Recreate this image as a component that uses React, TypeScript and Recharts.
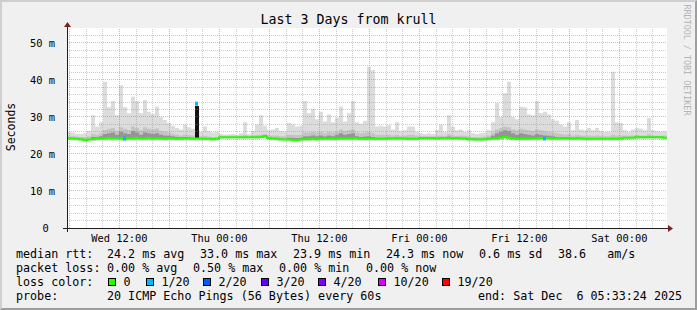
import { ComposedChart, Area, Line, XAxis, YAxis, ReferenceLine, CartesianGrid } from "recharts";

// 150 steps of 0.48h (28.8 min), starting Wed 05:43 (hours counted from Wed 00:00)
const T0 = 5.72;
const STEP_H = 0.48;

// median rtt (ms)
const MED = [
  24.2, 24.2, 24.1, 24.0, 23.8, 23.9, 24.0, 24.1, 24.2, 24.2,
  24.3, 24.2, 24.2, 24.2, 24.1, 24.2, 24.2, 24.3, 24.2, 24.2,
  24.3, 24.2, 24.2, 24.2, 24.1, 24.2, 24.2, 24.1, 24.1, 24.2,
  24.2, 24.1, 24.2, 24.1, 24.1, 24.1, 24.0, 24.1, 24.5, 24.5,
  24.5, 24.5, 24.5, 24.5, 24.5, 24.5, 24.5, 24.5, 24.6, 24.8,
  24.3, 24.2, 24.1, 24.0, 23.9, 23.9, 23.8, 23.8, 23.9, 24.0,
  24.0, 24.1, 24.0, 24.1, 24.1, 24.1, 24.1, 24.1, 24.2, 24.2,
  24.2, 24.2, 24.2, 24.1, 24.1, 24.1, 24.1, 24.1, 24.1, 24.1,
  24.2, 24.2, 24.2, 24.2, 24.2, 24.1, 24.1, 24.1, 24.3, 24.3,
  24.3, 24.3, 24.2, 24.3, 24.3, 24.3, 24.3, 24.3, 24.2, 24.2,
  24.0, 24.0, 23.9, 23.9, 24.0, 24.1, 24.2, 24.2, 24.4, 24.6,
  24.4, 24.2, 24.1, 24.1, 24.1, 24.1, 24.2, 24.2, 24.3, 24.3,
  24.3, 24.2, 24.2, 24.2, 24.2, 24.2, 24.2, 24.2, 24.2, 24.1,
  24.1, 24.1, 24.1, 24.1, 24.1, 24.1, 24.1, 24.1, 24.2, 24.4,
  24.4, 24.4, 24.5, 24.5, 24.5, 24.5, 24.5, 24.5, 24.5, 24.4,
];

// fastest ping of each step
const LO = [
  23.7, 23.6, 23.5, 23.4, 23.2, 23.3, 23.4, 23.5, 23.6, 23.5,
  23.6, 23.5, 23.6, 23.5, 23.4, 23.6, 23.5, 23.6, 23.5, 23.6,
  23.6, 23.5, 23.6, 23.6, 23.5, 23.6, 23.6, 23.5, 23.5, 23.6,
  23.6, 23.5, 23.4, 23.5, 23.5, 23.5, 23.4, 23.5, 24.0, 24.0,
  24.0, 24.0, 24.0, 24.0, 24.0, 24.0, 24.0, 24.0, 24.1, 24.2,
  23.7, 23.6, 23.5, 23.4, 23.3, 23.3, 23.2, 23.2, 23.3, 23.4,
  23.4, 23.5, 23.4, 23.5, 23.5, 23.5, 23.5, 23.5, 23.6, 23.6,
  23.6, 23.6, 23.6, 23.5, 23.5, 23.5, 23.5, 23.5, 23.5, 23.5,
  23.6, 23.6, 23.6, 23.6, 23.6, 23.5, 23.5, 23.5, 23.8, 23.8,
  23.8, 23.8, 23.7, 23.8, 23.8, 23.8, 23.8, 23.8, 23.7, 23.7,
  23.4, 23.4, 23.3, 23.3, 23.4, 23.5, 23.6, 23.6, 23.8, 24.0,
  23.8, 23.6, 23.5, 23.5, 23.5, 23.5, 23.6, 23.6, 23.7, 23.7,
  23.7, 23.6, 23.6, 23.6, 23.6, 23.6, 23.6, 23.6, 23.6, 23.5,
  23.5, 23.5, 23.5, 23.5, 23.5, 23.5, 23.5, 23.5, 23.6, 23.9,
  23.9, 23.9, 24.0, 24.0, 24.0, 24.0, 24.0, 24.0, 24.0, 23.9,
];

// slowest ping of each step (top of light smoke)
const HI = [
  26.0, 25.8, 25.5, 25.4, 25.6, 26.2, 30.5, 27.4, 28.6, 39.5,
  32.6, 34.3, 30.5, 38.6, 32.6, 31.0, 35.5, 34.3, 31.0, 34.6,
  31.4, 30.8, 32.8, 30.0, 29.2, 28.4, 27.6, 27.0, 26.6, 28.0,
  27.2, 26.8, 26.8, 26.0, 27.4, 26.2, 25.8, 26.0, 25.4, 25.2,
  25.3, 25.4, 25.2, 25.6, 28.6, 25.4, 26.2, 28.0, 30.5, 27.6,
  26.4, 26.6, 27.0, 26.2, 26.0, 28.4, 28.0, 27.4, 27.6, 34.3,
  31.0, 32.2, 29.4, 31.4, 28.8, 30.7, 28.6, 29.8, 32.8, 28.8,
  31.0, 34.3, 28.6, 28.2, 29.0, 43.6, 42.7, 27.4, 27.6, 27.4,
  27.8, 26.6, 28.6, 26.2, 26.4, 27.4, 27.4, 26.0, 25.6, 25.4,
  25.6, 25.4, 26.4, 28.0, 26.0, 30.5, 27.4, 26.4, 26.6, 26.0,
  26.4, 25.6, 25.4, 25.6, 25.8, 26.4, 28.6, 33.8, 30.0, 36.4,
  39.5, 30.0, 29.4, 32.8, 32.6, 30.7, 30.5, 34.3, 31.0, 31.4,
  30.7, 29.4, 29.0, 28.0, 27.4, 28.6, 26.4, 29.2, 26.6, 26.4,
  27.0, 26.4, 27.0, 26.2, 26.0, 26.0, 42.2, 28.6, 28.4, 26.4,
  26.0, 26.6, 27.0, 26.8, 26.4, 29.7, 26.4, 26.2, 26.0, 26.2,
];

// top of the medium grey smoke
const MID = [
  24.8, 24.8, 24.7, 24.6, 24.6, 24.8, 25.5, 25.2, 25.6, 26.5,
  26.8, 27.0, 26.2, 27.2, 26.8, 26.5, 27.4, 27.0, 26.4, 27.2,
  26.8, 26.6, 26.9, 26.2, 26.0, 25.8, 25.5, 25.2, 25.0, 25.3,
  25.1, 25.0, 25.0, 24.8, 24.9, 24.7, 24.6, 24.6, 24.9, 24.9,
  24.9, 24.9, 24.9, 25.0, 25.1, 24.9, 25.0, 25.1, 25.3, 25.4,
  25.0, 25.0, 25.0, 24.8, 24.8, 25.2, 25.2, 25.1, 25.2, 25.8,
  25.8, 26.0, 25.8, 26.0, 25.6, 26.0, 25.8, 26.0, 26.6, 26.2,
  26.4, 26.6, 25.8, 25.6, 25.8, 26.0, 25.6, 25.2, 25.2, 25.2,
  25.3, 25.0, 25.2, 24.9, 25.0, 25.2, 25.2, 24.9, 24.8, 24.8,
  24.8, 24.8, 24.9, 25.0, 24.9, 25.4, 25.0, 24.9, 25.0, 24.9,
  24.8, 24.6, 24.6, 24.6, 24.7, 25.0, 25.8, 26.6, 27.0, 27.4,
  27.2, 26.6, 26.4, 26.8, 26.6, 26.4, 26.2, 26.6, 26.4, 26.2,
  26.0, 25.8, 25.6, 25.4, 25.3, 25.4, 25.0, 25.3, 25.0, 24.9,
  25.0, 24.9, 25.0, 24.9, 24.8, 24.8, 25.2, 25.0, 25.0, 25.0,
  24.9, 25.0, 25.1, 25.0, 25.0, 25.4, 25.0, 24.9, 24.9, 25.0,
];

// top of the dark smoke around the median
const DARK = [
  24.4, 24.4, 24.3, 24.2, 24.0, 24.1, 24.6, 24.5, 24.8, 25.4,
  25.6, 25.8, 25.2, 26.0, 25.6, 25.4, 26.2, 25.8, 25.2, 25.8,
  25.6, 25.4, 25.6, 25.2, 25.0, 24.9, 24.8, 24.6, 24.5, 24.6,
  24.5, 24.4, 24.4, 24.3, 24.3, 24.3, 24.2, 24.3, 24.6, 24.6,
  24.6, 24.6, 24.6, 24.6, 24.7, 24.6, 24.7, 24.7, 24.8, 25.0,
  24.5, 24.4, 24.4, 24.2, 24.1, 24.4, 24.4, 24.3, 24.4, 24.8,
  24.8, 25.0, 24.8, 25.0, 24.7, 25.0, 24.8, 25.2, 25.6, 25.2,
  25.4, 25.6, 24.8, 24.6, 24.7, 24.8, 24.6, 24.4, 24.4, 24.4,
  24.5, 24.4, 24.5, 24.4, 24.4, 24.4, 24.4, 24.3, 24.5, 24.5,
  24.5, 24.5, 24.4, 24.5, 24.5, 24.7, 24.5, 24.5, 24.4, 24.4,
  24.2, 24.2, 24.1, 24.1, 24.2, 24.4, 25.0, 25.6, 26.0, 26.4,
  26.2, 25.6, 25.2, 25.6, 25.4, 25.2, 25.0, 25.4, 25.2, 25.0,
  24.9, 24.8, 24.6, 24.5, 24.5, 24.5, 24.4, 24.5, 24.4, 24.3,
  24.3, 24.3, 24.3, 24.3, 24.3, 24.3, 24.4, 24.3, 24.4, 24.6,
  24.6, 24.6, 24.7, 24.7, 24.7, 24.8, 24.7, 24.7, 24.7, 24.6,
];

// Wed evening: every ping of one step around 33 ms
const SPIKE_IDX = 32;
const SPIKE_TOP = 33.0;

// steps with 1/20 loss
const LOSS_IDX = [14, 32, 119];
const LOSS_RTT = [24.2, 33.6, 24.2];

const X_TICKS = [12, 24, 36, 48, 60, 72];
const X_LABELS = ["Wed 12:00", "Thu 00:00", "Thu 12:00", "Fri 00:00", "Fri 12:00", "Sat 00:00"];
const Y_TICKS = [0, 10, 20, 30, 40, 50];
const Y_LABELS = ["0 ", "10 m", "20 m", "30 m", "40 m", "50 m"];

const RTT_STATS = ["24.2 ms avg", "33.0 ms max", "23.9 ms min", "24.3 ms now", "0.6 ms sd", "38.6   am/s"];
const PL_STATS = ["0.00 % avg", "0.50 % max", "0.00 % min", "0.00 % now"];
const LOSS_LEVELS = ["0", "1/20", "2/20", "3/20", "4/20", "10/20", "19/20"];
const LOSS_COLORS = ["#26ff00", "#00b8ff", "#0059ff", "#5e00ff", "#7e00ff", "#dd00ff", "#ff0000"];

const FONT = '"DejaVu Sans Mono", monospace';
const W = 697;
const H = 310;

const table = MED.map((m, i) => ({
  t: T0 + i * STEP_H,
  light: [LO[i], HI[i]],
  mid: [m, MID[i]],
  dark: [m, DARK[i]],
  core: i === SPIKE_IDX ? [m, SPIKE_TOP] : [m, m],
  med: m,
  loss: LOSS_IDX.includes(i) ? LOSS_RTT[LOSS_IDX.indexOf(i)] : null,
}));
// close the last step at the right edge
table.push({ ...table[table.length - 1], t: T0 + 72, loss: null });

const minorX: number[] = [];
for (let h = 6; h <= 76; h += 2) if (h % 6) minorX.push(h);
const majorX: number[] = [];
for (let h = 6; h <= 72; h += 6) majorX.push(h);
const minorY: number[] = [];
for (let v = 2; v <= 52; v += 2) if (v % 10) minorY.push(v);
const majorY = [10, 20, 30, 40, 50];

function XTick(props: any) {
  const { x, y, payload } = props;
  return (
    <text x={x} y={y + 13.5} textAnchor="middle" fontFamily={FONT} fontSize={10.4} fill="#000">
      {X_LABELS[X_TICKS.indexOf(payload.value)]}
    </text>
  );
}

function YTick(props: any) {
  const { x, y, payload } = props;
  return (
    <text x={x - 12} y={y + 3.7} textAnchor="end" fontFamily={FONT} fontSize={10.4} fill="#000" xmlSpace="preserve">
      {Y_LABELS[Y_TICKS.indexOf(payload.value)]}
    </text>
  );
}

function LossDot(props: any) {
  const { cx, cy, value, index } = props;
  if (value == null || cx == null) return <g key={"l" + index} />;
  return <rect key={"l" + index} x={cx} y={cy - 2} width={3} height={4} fill={LOSS_COLORS[1]} />;
}

function LegendText(props: { x: number; y: number; children: string }) {
  return (
    <text x={props.x} y={props.y} xmlSpace="preserve">
      {props.children}
    </text>
  );
}

export default function App() {
  const legendY = [257.5, 271.5, 285.5, 299.5];
  const rttX = [107, 200, 293, 386, 479, 558];
  const plX = [107, 193, 279, 366];
  const boxX = [108, 146, 203, 261, 318, 378, 442];
  return (
    <div style={{ position: "absolute", left: 0, top: 0, width: W, height: H, background: "#f0f0f0" }}>
      <div
        style={{
          position: "absolute",
          left: 0,
          top: 0,
          width: W,
          height: H,
          boxSizing: "border-box",
          borderStyle: "solid",
          borderWidth: 2,
          borderColor: "#cfcfcf #9e9e9e #9e9e9e #cfcfcf",
        }}
      />
      <div style={{ position: "absolute", left: 0, top: 0 }}>
        <ComposedChart width={W} height={H} data={table} margin={{ top: 28, right: 30, bottom: 0, left: 0 }}>
          <CartesianGrid fill="#ffffff" horizontal={false} vertical={false} />
          <XAxis
            type="number"
            dataKey="t"
            domain={[T0, T0 + 72]}
            ticks={X_TICKS}
            interval={0}
            height={82}
            axisLine={false}
            tickLine={false}
            tickSize={0}
            tickMargin={0}
            tick={<XTick />}
            allowDataOverflow
          />
          <YAxis
            type="number"
            domain={[0, 54.05]}
            ticks={Y_TICKS}
            interval={0}
            width={67}
            axisLine={false}
            tickLine={false}
            tickSize={0}
            tickMargin={0}
            tick={<YTick />}
            allowDataOverflow
          />
          <Area type="stepAfter" dataKey="light" stroke="none" fill="#dcdcdc" fillOpacity={1} dot={false} activeDot={false} isAnimationActive={false} />
          <Area type="stepAfter" dataKey="mid" stroke="none" fill="#c4c4c4" fillOpacity={1} dot={false} activeDot={false} isAnimationActive={false} />
          <Area type="stepAfter" dataKey="dark" stroke="none" fill="#959595" fillOpacity={1} dot={false} activeDot={false} isAnimationActive={false} />
          <Area type="stepAfter" dataKey="core" stroke="none" fill="#141414" fillOpacity={1} dot={false} activeDot={false} isAnimationActive={false} />
          {minorX.map((h) => (
            <ReferenceLine key={"mx" + h} x={h} stroke="#8f8f8f" strokeOpacity={0.46} strokeDasharray="1 1" shapeRendering="crispEdges" />
          ))}
          {minorY.map((v) => (
            <ReferenceLine key={"my" + v} y={v} stroke="#8f8f8f" strokeOpacity={0.46} strokeDasharray="1 1" shapeRendering="crispEdges" />
          ))}
          {majorX.map((h) => (
            <ReferenceLine key={"Mx" + h} x={h} stroke="#de5050" strokeOpacity={0.46} strokeDasharray="1 1" shapeRendering="crispEdges" />
          ))}
          {majorY.map((v) => (
            <ReferenceLine key={"My" + v} y={v} stroke="#de5050" strokeOpacity={0.46} strokeDasharray="1 1" shapeRendering="crispEdges" />
          ))}
          <Line type="stepAfter" dataKey="med" stroke="#26ff00" strokeWidth={2} dot={false} activeDot={false} isAnimationActive={false} />
          <Line type="linear" dataKey="loss" stroke="none" dot={<LossDot />} activeDot={false} isAnimationActive={false} connectNulls={false} />
        </ComposedChart>
      </div>
      <svg width={W} height={H} style={{ position: "absolute", left: 0, top: 0, pointerEvents: "none" }} fontFamily={FONT}>
        <text x={348.5} y={24} textAnchor="middle" fontSize={13.3} fill="#000">
          Last 3 Days from krull
        </text>
        <text transform="translate(14.5,127) rotate(-90)" textAnchor="middle" fontSize={11.5} fill="#000">
          Seconds
        </text>
        <text transform="translate(684,60) rotate(90)" textAnchor="middle" fontSize={8.4} fill="#b4b4b4">
          RRDTOOL / TOBI OETIKER
        </text>
        {/* axes with arrow heads */}
        <line x1={63} y1={228.5} x2={668} y2={228.5} stroke="#1f1f1f" strokeWidth={1} />
        <line x1={67.5} y1={232} x2={67.5} y2={26} stroke="#1f1f1f" strokeWidth={1} />
        <polygon points="668,225 673,228.5 668,232" fill="#7f1f1f" />
        <polygon points="64,27 67.5,22 71,27" fill="#7f1f1f" />
        {/* legend */}
        <g fontSize={11.7} fill="#000">
          <LegendText x={16} y={legendY[0]}>median rtt:</LegendText>
          {RTT_STATS.map((s, i) => (
            <LegendText key={"r" + i} x={rttX[i]} y={legendY[0]}>{s}</LegendText>
          ))}
          <LegendText x={16} y={legendY[1]}>packet loss:</LegendText>
          {PL_STATS.map((s, i) => (
            <LegendText key={"p" + i} x={plX[i]} y={legendY[1]}>{s}</LegendText>
          ))}
          <LegendText x={16} y={legendY[2]}>loss color:</LegendText>
          {LOSS_LEVELS.map((s, i) => (
            <g key={"c" + i}>
              <rect x={boxX[i] + 0.5} y={278.5} width={7} height={7} fill={LOSS_COLORS[i]} stroke="#000" strokeWidth={1} />
              <LegendText x={boxX[i] + 15.5} y={legendY[2]}>{s}</LegendText>
            </g>
          ))}
          <LegendText x={16} y={legendY[3]}>probe:</LegendText>
          <LegendText x={107} y={legendY[3]}>20 ICMP Echo Pings (56 Bytes) every 60s</LegendText>
          <LegendText x={478} y={legendY[3]}>end: Sat Dec  6 05:33:24 2025</LegendText>
        </g>
      </svg>
    </div>
  );
}
